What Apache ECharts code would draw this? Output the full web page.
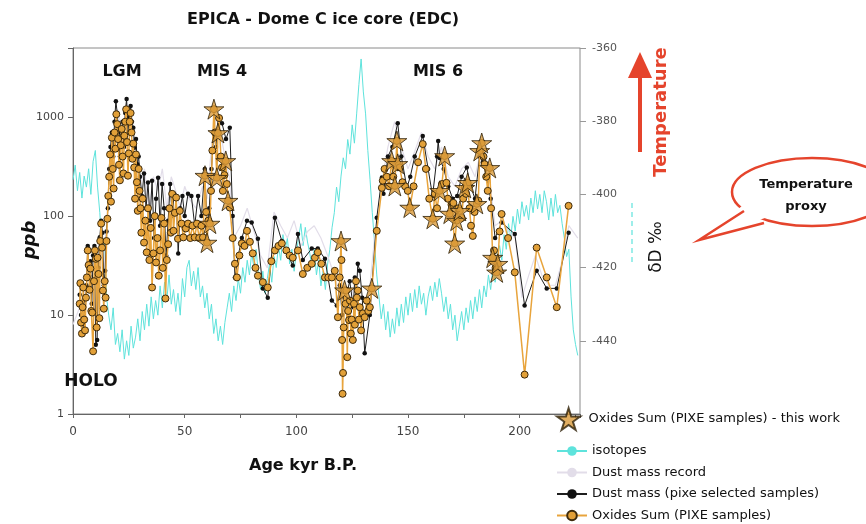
<!DOCTYPE html>
<html><head><meta charset="utf-8">
<script src="https://cdn.jsdelivr.net/npm/echarts@6/dist/echarts.min.js"></script>
<style>html,body{margin:0;padding:0;background:#fff}#c{width:866px;height:524px}</style>
</head><body><div id="c"></div><script>
const FONT = 'DejaVu Sans';
const titleText = 'EPICA - Dome C ice core (EDC)';
const seriesNames = ['isotopes', 'Dust mass record', 'Dust mass (pixe selected samples)', 'Oxides Sum (PIXE samples)', 'Oxides Sum (PIXE samples) - this work'];
const periodLabels = ['LGM', 'MIS 4', 'MIS 6', 'HOLO'];

// δD ‰ (right axis) vs age kyr B.P.
const isotopes = [[0,-396],[1,-392],[2,-399],[3,-394],[4,-401],[5,-395],[6,-398],[7,-393],[8,-400],[9,-391],[10,-388],[11,-398],[12,-405],[13,-415],[14,-412],[15,-428],[16,-433],[17,-437],[18,-431],[19,-441],[20,-438],[21,-443],[22,-437],[23,-445],[24,-440],[25,-444],[26,-436],[27,-442],[28,-439],[29,-434],[30,-440],[31,-432],[32,-437],[33,-430],[34,-436],[35,-428],[36,-434],[37,-429],[38,-433],[39,-425],[40,-431],[41,-424],[42,-429],[43,-422],[44,-430],[45,-426],[46,-432],[47,-427],[48,-433],[49,-423],[50,-428],[51,-420],[52,-418],[53,-425],[54,-421],[55,-426],[56,-420],[57,-428],[58,-425],[59,-431],[60,-427],[61,-434],[62,-430],[63,-438],[64,-434],[65,-440],[66,-436],[67,-441],[68,-435],[69,-431],[70,-427],[71,-432],[72,-425],[73,-429],[74,-423],[75,-427],[76,-420],[77,-424],[78,-418],[79,-422],[80,-416],[81,-420],[82,-415],[83,-422],[84,-426],[85,-421],[86,-427],[87,-423],[88,-419],[89,-424],[90,-417],[91,-420],[92,-414],[93,-418],[94,-411],[95,-415],[96,-412],[97,-419],[98,-415],[99,-421],[100,-416],[101,-412],[102,-408],[103,-414],[104,-409],[105,-413],[106,-416],[107,-420],[108,-415],[109,-422],[110,-418],[111,-425],[112,-421],[113,-426],[114,-419],[115,-415],[116,-409],[117,-405],[118,-398],[119,-402],[120,-395],[121,-390],[122,-393],[123,-385],[124,-389],[125,-381],[126,-386],[127,-378],[128,-370],[129,-363],[130,-372],[131,-378],[132,-388],[133,-396],[134,-405],[135,-413],[136,-422],[137,-428],[138,-434],[139,-430],[140,-437],[141,-432],[142,-439],[143,-434],[144,-438],[145,-431],[146,-436],[147,-430],[148,-435],[149,-428],[150,-433],[151,-427],[152,-432],[153,-426],[154,-431],[155,-425],[156,-430],[157,-427],[158,-433],[159,-428],[160,-425],[161,-429],[162,-424],[163,-428],[164,-423],[165,-427],[166,-432],[167,-428],[168,-434],[169,-430],[170,-437],[171,-433],[172,-440],[173,-436],[174,-432],[175,-437],[176,-431],[177,-435],[178,-429],[179,-434],[180,-428],[181,-432],[182,-426],[183,-431],[184,-425],[185,-428],[186,-422],[187,-426],[188,-420],[189,-424],[190,-417],[191,-414],[192,-418],[193,-411],[194,-415],[195,-408],[196,-412],[197,-406],[198,-410],[199,-404],[200,-408],[201,-402],[202,-406],[203,-403],[204,-407],[205,-401],[206,-405],[207,-399],[208,-404],[209,-400],[210,-405],[211,-399],[212,-402],[213,-407],[214,-401],[215,-406],[216,-400],[217,-405],[218,-403],[219,-408],[220,-412],[221,-417],[222,-415],[223,-428],[224,-437],[225,-441],[226,-444]];

// ppb (left log axis)
const dustRecord = [[0,8],[3,12],[6,20],[8,35],[10,10],[12,50],[14,30],[16,200],[18,600],[20,1200],[22,700],[24,1400],[26,900],[28,400],[30,200],[32,300],[34,120],[36,250],[38,180],[40,300],[42,120],[44,250],[46,180],[48,120],[50,200],[52,150],[55,120],[58,200],[60,150],[62,500],[64,1000],[66,700],[68,400],[70,250],[72,60],[75,80],[78,120],[81,70],[84,40],[87,30],[90,110],[93,80],[96,60],[99,90],[102,50],[105,70],[108,80],[111,60],[114,40],[117,25],[120,15],[123,12],[126,20],[129,15],[132,12],[135,60],[138,200],[141,500],[144,900],[147,500],[150,300],[153,450],[156,700],[159,400],[162,300],[165,500],[168,250],[171,200],[174,300],[177,350],[180,250],[183,500],[186,300],[189,80],[192,90],[195,70],[198,60],[201,15],[204,25],[207,40],[210,25],[213,20],[216,20],[219,35],[222,80],[226,60]];

const dustPixe = [[3.0,16],[3.6,10],[4.2,8],[4.8,14],[5.4,9],[6.0,20],[6.6,50],[7.2,25],[7.8,35],[8.4,13],[9.0,40],[9.6,50],[10.2,5],[10.8,5.6],[11.4,30],[12.0,61],[12.6,90],[13.2,68],[13.8,20],[14.4,28],[15.0,70],[15.6,120],[16.2,300],[16.8,500],[17.4,700],[18.0,400],[18.6,900],[19.2,1450],[19.8,1100],[20.4,700],[21.0,400],[21.6,650],[22.2,900],[22.8,500],[23.4,1100],[24.0,1530],[24.6,700],[25.2,1000],[25.8,1300],[26.4,900],[27.0,780],[27.6,490],[28.2,600],[28.8,335],[29.4,400],[30.0,250],[30.9,160],[31.8,270],[32.7,120],[33.6,218],[34.5,90],[35.4,228],[36.3,60],[37.2,150],[38.1,244],[39.0,80],[39.9,211],[40.8,120],[41.7,40],[42.6,90],[43.5,211],[44.4,100],[45.3,168],[46.2,160],[47.1,42],[48.0,120],[49.0,160],[50.0,100],[51.5,168],[53.0,160],[54.5,80],[56.0,160],[57.5,100],[59.0,300],[60.0,80],[61.0,120],[62.0,300],[63.0,700],[64.0,500],[65.0,980],[66.7,870],[68.5,600],[70.2,780],[71.5,100],[72.5,24],[74.0,40],[75.6,60],[77.9,90],[80.0,86],[82.8,59],[85.0,18.6],[87.2,15],[90.4,96],[93.5,56],[98.4,31.6],[100.7,66],[102.9,36],[106.9,47],[109.6,47],[112.8,37],[115.9,14],[118.1,12.5],[119.5,20],[120.5,10],[121.5,15],[123.0,18],[123.9,22],[125.5,12],[126.2,24],[127.0,18],[127.5,33],[128.4,28],[129.5,15],[130.6,4.1],[132.9,10],[136.0,96],[138.3,245],[139.0,168],[141.0,400],[143.0,500],[145.4,870],[147.0,400],[149.5,193],[151.0,250],[153.0,400],[156.6,645],[159.0,300],[161.0,160],[163.0,400],[163.5,575],[164.2,387],[166.0,300],[168.0,200],[170.0,150],[172.0,160],[174.0,250],[176.3,310],[178.0,200],[180.0,150],[182.0,400],[183.5,350],[185.0,250],[187.0,150],[189.0,60],[191.9,86],[197.8,66],[202.2,12.5],[207.6,28],[212.1,18.6],[216.6,18.6],[221.9,68]];

const oxides = [[3.0,13],[3.3,21],[3.6,8.4],[4.0,6.5],[4.3,12],[4.6,19],[5.0,9],[5.4,7],[5.8,15],[6.2,24],[6.6,45],[7.0,32],[7.4,18],[7.8,29.5],[8.2,11],[8.6,10.6],[9.0,4.3],[9.4,22],[9.8,45],[10.2,37],[10.6,7.5],[11.0,38],[11.4,26],[11.8,9.3],[12.2,56],[12.6,84],[13.0,48],[13.4,17.7],[13.8,11.6],[14.2,22],[14.6,15],[15.0,56],[15.4,94],[15.8,160],
[16.2,250],[16.6,420],[17.0,140],[17.4,620],[17.8,300],[18.2,190],[18.6,700],[19.0,480],[19.4,1070],[19.8,850],[20.2,600],[20.6,330],[21.0,230],[21.4,520],[21.8,760],[22.2,400],[22.6,270],[23.0,650],[23.4,900],[23.8,1200],[24.2,560],[24.6,256],[25.0,430],[25.4,900],[25.8,1100],[26.2,700],[26.6,380],[27.0,540],[27.4,310],[27.8,150],[28.2,420],[28.6,220],[29.0,113],[29.4,300],[29.8,180],[30.2,120],
[30.6,68],[31.2,150],[31.8,54],[32.4,90],[33.0,43],[33.6,120],[34.2,36],[34.8,76],[35.4,19],[36.0,42],[36.6,100],[37.2,34],[37.8,60],[38.4,25],[39.0,45],[39.6,96],[40.2,30],[40.8,84],[41.4,14.7],[42.0,36],[42.6,52],[43.2,120],[43.8,68],[44.4,168],[45.0,71],[45.6,108],[46.2,154],[47.0,59],[47.8,113],[48.6,84],[49.4,61],[50.5,75],[51.5,84],[52.5,60],[53.5,80],[54.5,61],
[55.5,84],[56.5,60],[57.5,80],[58.2,61],[59.1,256],[59.6,110],[60.0,54],[60.6,90],[61.3,84],[61.8,180],[62.4,460],[63.1,1205],[63.6,700],[64.4,244],[64.9,692],[65.4,980],[66.2,400],[66.7,310],[67.1,180],[67.8,260],[68.4,361],[68.9,211],[69.4,143],[70.2,122],[71.5,60],[72.5,33],[73.4,24],
[74.5,40],[75.6,53],[76.8,50],[77.9,71],[79.2,55],[80.5,42],[81.7,30],[82.8,25],[85.0,21.5],[87.2,19],[88.8,35],[90.4,45],[92.0,50],[93.5,53],[95.5,45],[97.0,40],[98.4,38],[100.7,45],[102.9,26],[104.9,30],[106.9,33],[108.3,38],[109.6,43],[111.2,33],[112.8,24],[114.3,24],[115.9,24],[117.2,28],
[118.6,9.5],[119.4,24],[120.0,56],[120.2,36],[120.5,5.6],[120.7,1.6],[120.9,2.6],[121.2,7.5],[121.6,17.8],[122.0,13],[122.4,17.7],[122.8,3.75],[123.2,11],[123.6,8.9],[124.0,14],[124.4,6.5],[124.8,9],[125.3,5.6],[125.8,13],[126.2,8],[126.7,22],[127.1,15],[127.5,17.7],[128.0,9],[128.4,12],[129.0,7],[129.8,10.4],[130.6,9.5],[131.5,14],[132.2,11],[132.9,12],[133.8,18.6],[136.0,71],[138.3,193],[138.7,228],
[139.5,300],[140.5,250],[141.5,200],[142.7,361],[143.4,250],[144.1,202],[145.0,575],[145.4,337],[146.3,310],[147.5,220],[148.7,200],[149.9,180],[150.8,122],[152.5,200],[154.5,350],[156.6,535],[158.0,300],[159.5,150],[161.1,94],[162.0,168],[163.0,120],[164.2,180],[165.2,211],[166.4,405],[167.2,217],[167.8,150],[168.7,106],[169.5,130],[170.3,136],[170.9,53],[171.8,90],[172.5,120],[173.2,113],[174.0,96],[174.7,150],[175.4,193],[176.0,168],[176.7,217],[177.5,120],[178.2,80],[179.0,63],[179.8,110],[180.8,133],[181.5,143],[182.1,456],[183.0,548],[183.8,400],[184.3,335],[185.0,250],[185.7,180],[186.6,307],[187.2,120],[187.9,38],[188.5,45],[189.2,30],[189.7,27],[190.2,33],[191.0,70],[191.9,105],[194.8,60],[197.8,27],[202.2,2.5],[207.6,48],[212.1,24],[216.6,12],[221.9,127]];

const oxidesThisWork = [[59.1,256],[60.0,54],[61.3,84],[63.1,1205],[64.4,244],[64.9,692],[68.4,361],[69.4,143],[120.0,56],[121.6,17.8],[133.8,18.6],[142.7,361],[144.1,202],[145.0,575],[145.4,337],[150.8,122],[161.1,94],[164.2,180],[166.4,405],[168.7,106],[170.9,53],[171.8,90],[173.2,113],[175.4,193],[176.7,217],[180.8,133],[182.1,456],[183.0,548],[186.6,307],[187.9,38],[189.7,27],[190.2,33]];

const STAR = 'path://M50,0 L61,35 L98,35 L68,57 L79,91 L50,70 L21,91 L32,57 L2,35 L39,35 Z';
const RED = '#e5442c';

const chart = echarts.init(document.getElementById('c'), null, {renderer: 'canvas'});
const txt = (x, y, text, size, opts) => Object.assign({
  type: 'text', x: x, y: y, z: 100,
  style: Object.assign({text: text, font: 'bold ' + size + 'px "' + FONT + '"', fill: '#111', align: 'center', verticalAlign: 'middle'}, (opts && opts.style) || {})
}, (opts && opts.el) || {});

chart.setOption({
  animation: false,
  backgroundColor: '#fff',
  textStyle: {fontFamily: FONT},
  grid: {left: 73, right: 286, top: 48, bottom: 110, show: true, borderColor: '#8a8a8a', borderWidth: 1},
  xAxis: {
    type: 'value', min: 0, max: 227, interval: 25,
    axisLine: {lineStyle: {color: '#666'}},
    axisTick: {length: 4, lineStyle: {color: '#666'}},
    axisLabel: {color: '#444', fontSize: 12, margin: 12, formatter: v => (v % 50 === 0 ? String(v) : '')},
    splitLine: {show: false}
  },
  yAxis: [{
    type: 'log', logBase: 10, min: 1, max: 5000,
    axisLine: {show: true, lineStyle: {color: '#666'}},
    axisTick: {show: true, length: 5, lineStyle: {color: '#666'}},
    axisLabel: {color: '#444', fontSize: 11, margin: 9, formatter: v => {
      const l = Math.log10(v); return Math.abs(l - Math.round(l)) < 1e-6 ? String(Math.round(v)) : '';
    }},
    splitLine: {show: false}, minorTick: {show: false}
  }, {
    type: 'value', position: 'right', min: -460, max: -360, interval: 20,
    axisLine: {show: true, lineStyle: {color: '#c4c4c4'}},
    axisTick: {show: true, length: 6, lineStyle: {color: '#999'}},
    axisLabel: {color: '#555', fontSize: 11, margin: 12, showMinLabel: false},
    splitLine: {show: false}
  }],
  legend: [{
    data: [seriesNames[4]], left: 556, top: 407, orient: 'vertical', padding: 0,
    itemWidth: 30, itemHeight: 22,
    textStyle: {fontFamily: FONT, fontSize: 13, color: '#111'}
  }, {
    data: seriesNames.slice(0, 4), left: 556, top: 444, orient: 'vertical', padding: 0,
    itemWidth: 30, itemHeight: 12, itemGap: 7.5, height: 80,
    textStyle: {fontFamily: FONT, fontSize: 13, lineHeight: 14, color: '#111'}
  }],
  series: [{
    name: seriesNames[0], type: 'line', yAxisIndex: 1, data: isotopes, showSymbol: false, symbol: 'none',
    lineStyle: {color: '#5ee3dc', width: 1}, itemStyle: {color: '#5ee3dc'}, z: 1, silent: true
  }, {
    name: seriesNames[1], type: 'line', yAxisIndex: 0, data: dustRecord, showSymbol: false, symbol: 'none',
    lineStyle: {color: '#e2dde9', width: 1.2}, itemStyle: {color: '#e2dde9'}, z: 2, silent: true
  }, {
    name: seriesNames[2], type: 'line', yAxisIndex: 0, data: dustPixe, symbol: 'circle', symbolSize: 4.5,
    lineStyle: {color: '#1e1e1e', width: 1}, itemStyle: {color: '#111'}, z: 3
  }, {
    name: seriesNames[3], type: 'line', yAxisIndex: 0, data: oxides, symbol: 'circle', symbolSize: 7,
    lineStyle: {color: '#e8a43c', width: 1.5},
    itemStyle: {color: '#e2a038', borderColor: '#3d2a0c', borderWidth: 1}, z: 4
  }, {
    name: seriesNames[4], type: 'scatter', yAxisIndex: 0, data: oxidesThisWork, symbol: STAR, symbolSize: 20,
    itemStyle: {color: '#d99a3a', borderColor: '#2e2008', borderWidth: 1}, z: 5
  }],
  graphic: [
    txt(323, 20, titleText, 16),
    txt(122, 72, periodLabels[0], 16),
    txt(222, 72, periodLabels[1], 16),
    txt(438, 72, periodLabels[2], 16),
    txt(91, 382, periodLabels[3], 17),
    txt(303, 466, 'Age kyr B.P.', 16),
    txt(30, 240, 'ppb', 18, {style: {font: 'italic bold 18px "' + FONT + '"'}, el: {rotation: Math.PI / 2}}),
    txt(657, 247, 'δD ‰', 17, {style: {font: '17px "' + FONT + '"'}, el: {rotation: Math.PI / 2}}),
    {type: 'line', z: 100, shape: {x1: 640, y1: 152, x2: 640, y2: 72}, style: {stroke: RED, lineWidth: 4}},
    {type: 'polygon', z: 100, shape: {points: [[628, 78], [652, 78], [640, 52]]}, style: {fill: RED}},
    txt(661, 112, 'Temperature', 18, {style: {fill: RED}, el: {rotation: Math.PI / 2}}),
    {type: 'line', z: 100, shape: {x1: 632, y1: 203, x2: 632, y2: 262}, style: {stroke: '#5ee3dc', lineWidth: 1.2, lineDash: [5, 4]}},
    {type: 'ellipse', z: 100, shape: {cx: 812, cy: 192, rx: 80, ry: 34}, style: {fill: '#fff', stroke: RED, lineWidth: 2.5}},
    {type: 'polygon', z: 101, shape: {points: [[742, 206], [699, 240], [768, 217]]}, style: {fill: '#fff'}},
    {type: 'polyline', z: 102, shape: {points: [[744, 211], [699, 240], [764, 223]]}, style: {stroke: RED, lineWidth: 2.5, fill: null}},
    txt(806, 185, 'Temperature', 13, {el: {z: 103}}),
    txt(806, 207, 'proxy', 13, {el: {z: 103}})
  ]
});
</script></body></html>
